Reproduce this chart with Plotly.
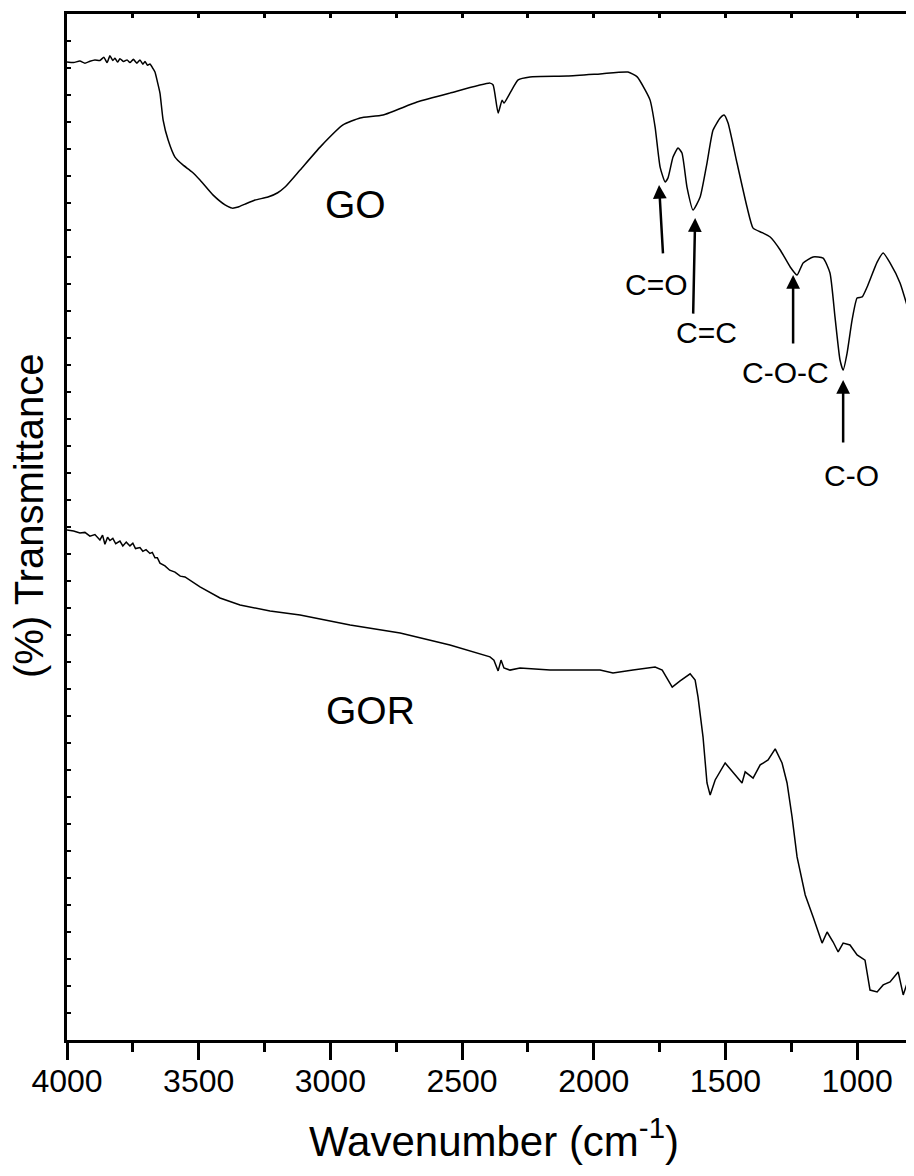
import plotly.graph_objects as go

# ---- data (wavenumber in cm^-1, transmittance in arbitrary units) ----
go_wn = [4000, 3975, 3951, 3932, 3913, 3894, 3875, 3860, 3848, 3837, 3826, 3818, 3808, 3799, 3785, 3772,
         3761, 3748, 3735, 3723, 3712, 3704, 3694, 3685, 3675, 3666, 3657, 3647, 3635, 3616, 3590, 3560,
         3525, 3495, 3446, 3400, 3373, 3350, 3324, 3286, 3237, 3200, 3172, 3115, 3039, 2952, 2887, 2800, 2671, 2546,
         2394, 2382, 2363, 2348, 2341, 2318, 2287, 2242, 2101, 1976, 1870, 1835, 1805, 1786, 1767,
         1748, 1729, 1718, 1699, 1680, 1665, 1646, 1623, 1596, 1570, 1547, 1520, 1505, 1490, 1456,
         1418, 1395, 1360, 1330, 1292, 1254, 1228, 1205, 1167, 1129, 1103, 1084, 1065, 1053, 1038, 1019,
         1000, 981, 962, 924, 901, 875, 837, 787]
go_t = [36.22, 36.20, 36.26, 36.18, 36.25, 36.30, 36.28, 36.40, 36.20, 36.45, 36.28, 36.36, 36.22, 36.34, 36.24, 36.30,
        36.20, 36.32, 36.18, 36.30, 36.14, 36.24, 36.10, 36.15, 36.00, 35.85, 35.50, 35.07, 34.07, 33.33, 32.70, 32.41,
        32.15, 31.85, 31.30, 30.93, 30.81, 30.85, 30.96, 31.11, 31.22, 31.38, 31.59, 32.22, 33.07, 33.89, 34.15, 34.26, 34.74, 35.07,
        35.44, 35.37, 34.33, 34.81, 34.70, 35.07, 35.56, 35.67, 35.70, 35.78, 35.85, 35.67, 35.19, 34.81, 33.81,
        32.33, 31.78, 31.93, 32.70, 33.04, 32.85, 31.59, 30.74, 31.22, 32.48, 33.70, 34.15, 34.26, 33.96, 32.48,
        30.85, 30.07, 29.90, 29.74, 29.26, 28.63, 28.33, 28.78, 29.00, 28.96, 28.41, 26.78, 25.19, 24.81, 25.44, 26.67,
        27.48, 27.52, 27.89, 28.81, 29.15, 28.78, 28.04, 26.41]

gor_wn = [4000, 3975, 3951, 3932, 3913, 3894, 3875, 3865, 3856, 3846, 3837, 3826, 3815, 3799, 3788, 3775,
          3761, 3750, 3740, 3723, 3712, 3700, 3685, 3676, 3666, 3657, 3647, 3628, 3610, 3590, 3570, 3552,
          3495, 3419, 3343, 3229, 3115, 2925, 2735, 2546, 2394, 2379, 2363, 2352, 2341, 2318, 2280,
          2166, 1976, 1927, 1851, 1767, 1740, 1702, 1672, 1634, 1615, 1604, 1585, 1570, 1558, 1539,
          1501, 1471, 1437, 1425, 1395, 1368, 1338, 1311, 1285, 1266, 1247, 1228, 1197, 1167, 1133,
          1114, 1091, 1072, 1053, 1027, 1000, 970, 951, 924, 901, 875, 844, 825, 806, 784]
gor_t = [18.89, 18.85, 18.78, 18.80, 18.66, 18.72, 18.52, 18.70, 18.36, 18.62, 18.50, 18.58, 18.38, 18.48, 18.30, 18.44,
         18.30, 18.40, 18.20, 18.24, 18.10, 18.16, 18.02, 18.06, 17.86, 17.86, 17.66, 17.56, 17.40, 17.33, 17.18, 17.15,
         16.78, 16.37, 16.11, 15.89, 15.74, 15.37, 15.07, 14.63, 14.19, 14.07, 13.67, 14.07, 13.78, 13.70, 13.78,
         13.70, 13.70, 13.59, 13.70, 13.81, 13.70, 13.07, 13.30, 13.56, 13.33, 12.70, 11.22, 9.52, 9.07, 9.63,
         10.26, 9.93, 9.52, 9.93, 9.70, 10.19, 10.37, 10.78, 10.26, 9.52, 8.26, 6.78, 5.37, 4.56, 3.59,
         4.00, 3.63, 3.26, 3.59, 3.52, 3.15, 2.96, 1.85, 1.78, 2.04, 2.15, 2.52, 1.67, 2.22, 2.48]

sample_names = ["GO", "GOR"]
sample_label_wn = [2903, 2846]
sample_label_t = [30.96, 12.19]

peak_names = ["C=O", "C=C", "C-O-C", "C-O"]
peak_wn = [1752, 1615, 1243, 1053]
peak_t = [31.67, 30.44, 28.33, 24.44]
peak_label_wn = [1763, 1570, 1273, 1023]
peak_label_t = [28.0, 26.22, 24.74, 20.89]

x_ticks = [4000, 3500, 3000, 2500, 2000, 1500, 1000]

FONT = "Liberation Sans, Arial, sans-serif"

fig = go.Figure()
fig.add_trace(go.Scatter(x=go_wn, y=go_t, mode="lines",
                         line=dict(color="black", width=1.5, shape="spline", smoothing=0.5),
                         name="GO", showlegend=False, hoverinfo="skip"))
fig.add_trace(go.Scatter(x=gor_wn, y=gor_t, mode="lines", line=dict(color="black", width=1.5),
                         name="GOR", showlegend=False, hoverinfo="skip"))
# invisible trace to render the top axis
fig.add_trace(go.Scatter(x=[4000], y=[0], xaxis="x2", mode="markers",
                         marker=dict(opacity=0), showlegend=False, hoverinfo="skip"))

# sample labels
for name, xw, yt in zip(sample_names, sample_label_wn, sample_label_t):
    fig.add_annotation(x=xw, y=yt, text=name, showarrow=False, xanchor="center", yanchor="middle",
                       font=dict(family=FONT, size=39, color="black"))

# peak arrows and labels
arrow_off = [(4, 70), (-2, 97), (0, 70), (0, 64)]
for name, xw, yt, lx, ly, (ax, ay) in zip(peak_names, peak_wn, peak_t, peak_label_wn, peak_label_t, arrow_off):
    fig.add_annotation(x=xw, y=yt, text="", showarrow=True, ax=ax, ay=ay,
                       arrowhead=2, arrowsize=1.1, arrowwidth=2.5, arrowcolor="black")
    fig.add_annotation(x=lx, y=ly, text=name, showarrow=False, xanchor="center", yanchor="middle",
                       font=dict(family=FONT, size=30, color="black"))

# axis titles
fig.add_annotation(xref="paper", yref="paper", x=0.504, y=-0.0955, xanchor="center", yanchor="middle",
                   text="Wavenumber (cm<sup>-1</sup>)", showarrow=False,
                   font=dict(family=FONT, size=42, color="black"))
fig.add_annotation(xref="paper", yref="paper", x=-0.0449, y=0.5117, xanchor="center", yanchor="middle",
                   text="(%) Transmittance", textangle=-90, showarrow=False,
                   font=dict(family=FONT, size=40, color="black"))

fig.update_layout(
    width=906, height=1168,
    margin=dict(l=59, r=0, t=6, b=136),
    paper_bgcolor="white", plot_bgcolor="white",
    xaxis=dict(range=[4000, 784], tickvals=x_ticks, ticktext=[str(v) for v in x_ticks],
               ticks="outside", ticklen=17, tickwidth=3, tickcolor="black", ticklabelstandoff=-6,
               minor=dict(tickvals=[3750, 3250, 2750, 2250, 1750, 1250, 750], ticks="outside",
                          ticklen=9, tickwidth=3, tickcolor="black"),
               showline=True, linewidth=3, linecolor="black", showgrid=False, zeroline=False,
               tickfont=dict(family=FONT, size=32, color="black")),
    xaxis2=dict(range=[4000, 784], overlaying="x", side="top", anchor="y",
                tickvals=[3750, 3500, 3250, 3000, 2750, 2500, 2250, 2000, 1750, 1500, 1250, 1000],
                ticks="inside", ticklen=4, tickwidth=3, tickcolor="black",
                showticklabels=False, showline=True, linewidth=3, linecolor="black",
                showgrid=False, zeroline=False),
    yaxis=dict(range=[0, 38], dtick=1, tick0=0, ticks="inside", ticklen=4, tickwidth=2,
               tickcolor="black", showticklabels=False, showline=True, linewidth=3,
               linecolor="black", showgrid=False, zeroline=False),
)

fig.write_html("out.html")
